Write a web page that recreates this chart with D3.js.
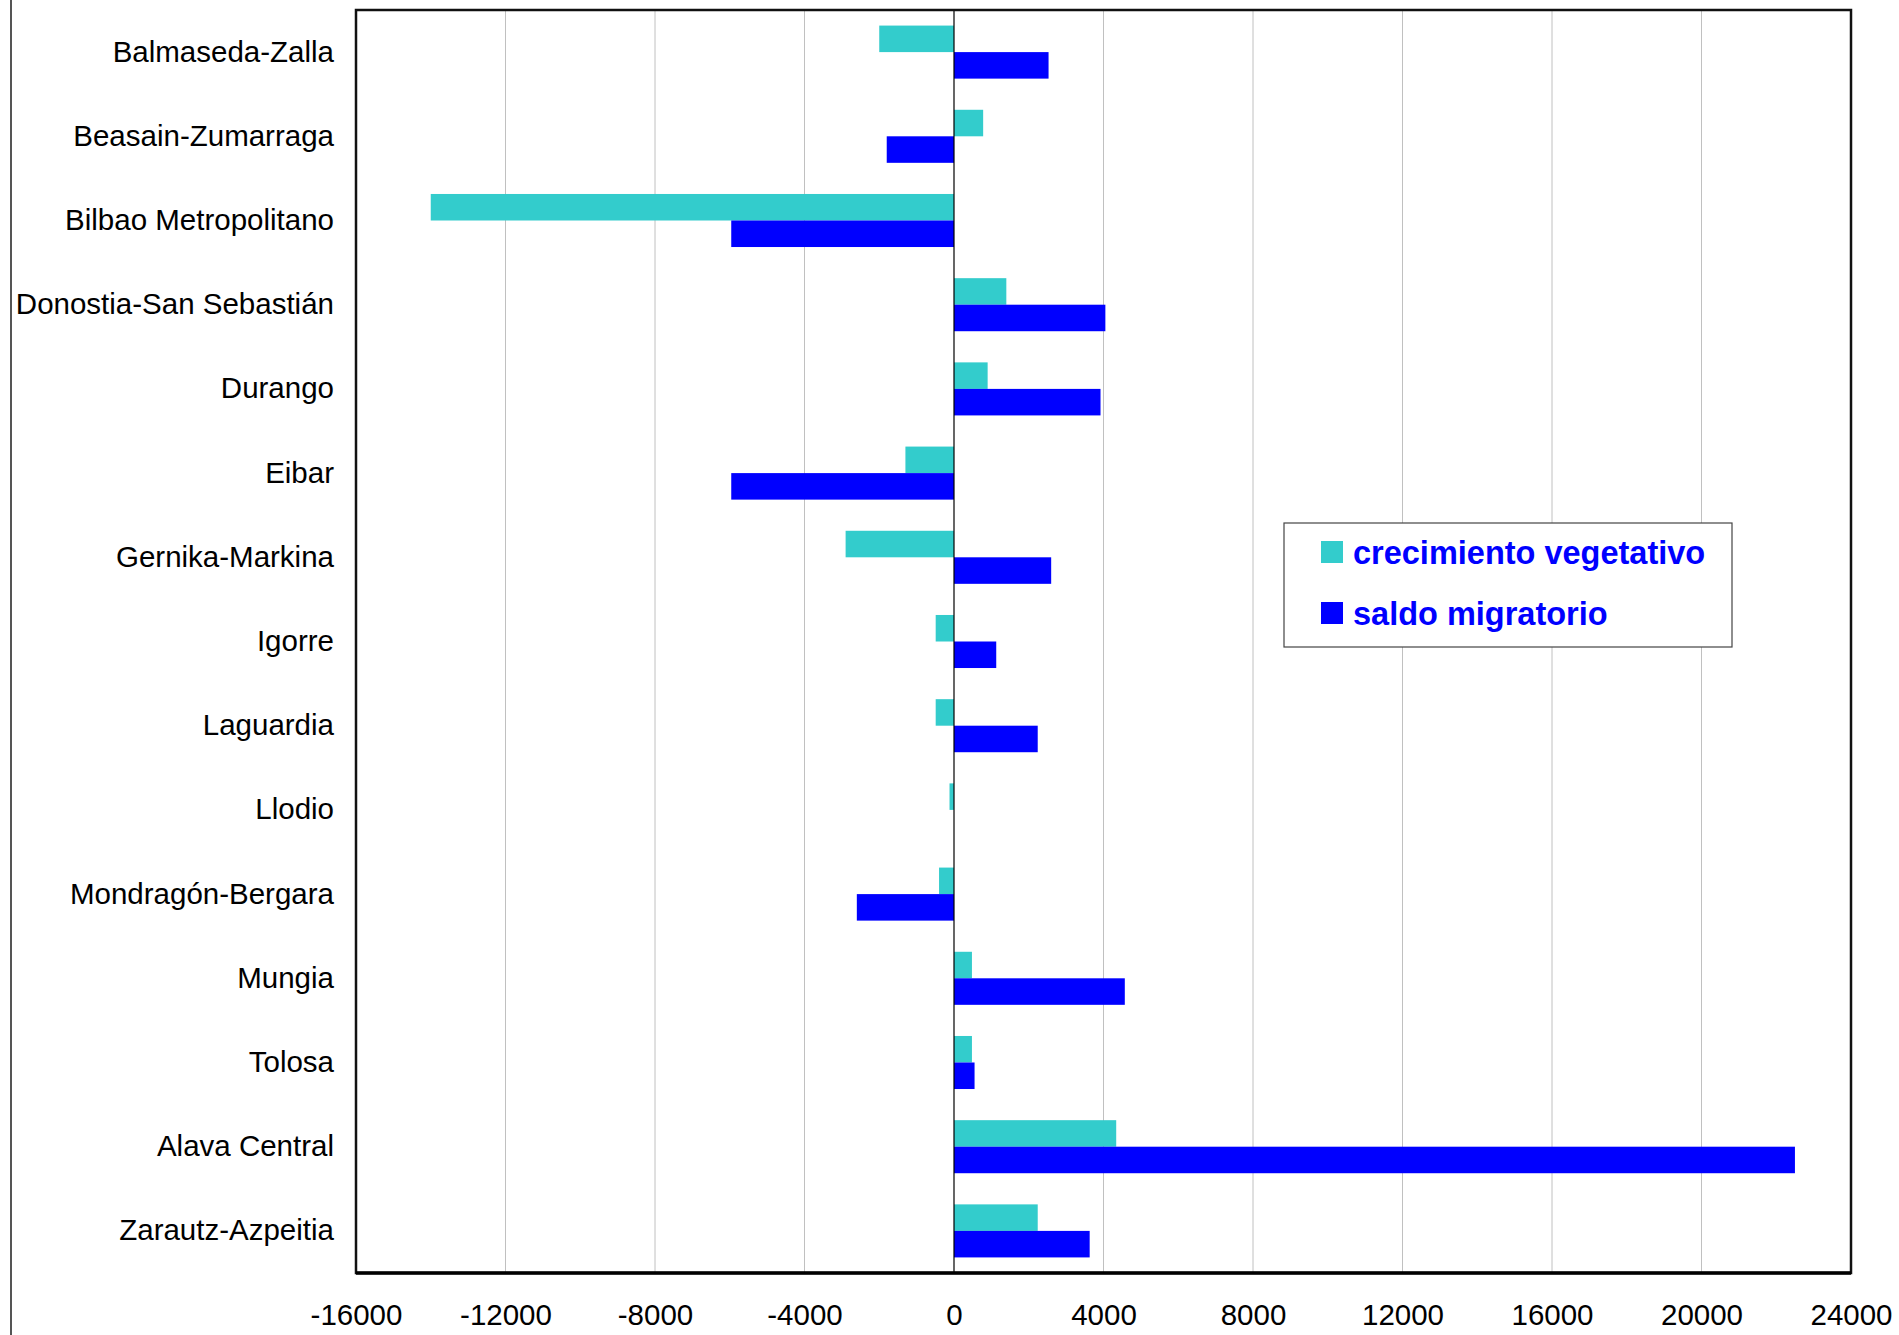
<!DOCTYPE html>
<html>
<head>
<meta charset="utf-8">
<script src="https://cdn.jsdelivr.net/npm/d3@7"></script>
<style>
  body { margin: 0; background: #fff; }
  svg { display: block; }
  text { font-family: "Liberation Sans", Arial, sans-serif; }
</style>
</head>
<body>
<div id="chart"></div>
<script>
// comarcas
let comarcas = ["Balmaseda-Zalla", "Beasain-Zumarraga", "Bilbao Metropolitano",
  "Donostia-San Sebastián", "Durango", "Eibar", "Gernika-Markina", "Igorre",
  "Laguardia", "Llodio", "Mondragón-Bergara", "Mungia", "Tolosa",
  "Alava Central", "Zarautz-Azpeitia"];

let crecimiento = [-2000, 780, -14000, 1400, 900, -1300, -2900, -490,
  -490, -120, -400, 480, 480, 4340, 2240];

let saldo = [2530, -1800, -5960, 4050, 3920, -5960, 2600, 1130,
  2240, 0, -2600, 4570, 550, 22500, 3630];

let series = ["crecimiento vegetativo", "saldo migratorio"];
let xTicks = [-16000, -12000, -8000, -4000, 0, 4000, 8000, 12000, 16000, 20000, 24000];

let width = 1899, height = 1335;
let margin = {top: 10, right: 48, bottom: 62, left: 356};

let svg = d3.select("#chart").append("svg")
  .attr("width", width)
  .attr("height", height);

// outer left line of the chart area
svg.append("line")
  .attr("x1", 11).attr("x2", 11)
  .attr("y1", 0).attr("y2", height)
  .attr("stroke", "#555")
  .attr("stroke-width", 2);

let x = d3.scaleLinear()
  .domain([-16000, 24000])
  .range([margin.left, width - margin.right]);

let y = d3.scaleBand()
  .domain(comarcas)
  .range([margin.top, height - margin.bottom])
  .paddingInner(0.37)
  .paddingOuter(0.185);

let ySub = d3.scaleBand()
  .domain(series)
  .range([0, y.bandwidth()]);

let color = d3.scaleOrdinal()
  .domain(series)
  .range(["#33CCCC", "#0000FF"]);

let g = svg.append("g");

// gridlines
g.selectAll("line.grid")
  .data(xTicks.filter(function(d) { return d > -16000 && d < 24000 && d != 0; }))
  .enter().append("line")
  .attr("class", "grid")
  .attr("x1", function(d) { return x(d); })
  .attr("x2", function(d) { return x(d); })
  .attr("y1", margin.top)
  .attr("y2", height - margin.bottom)
  .attr("stroke", "#C0C0C0")
  .attr("stroke-width", 1);

let rows = comarcas.map(function(c, i) {
  return {name: c, values: [crecimiento[i], saldo[i]]};
});

let grp = g.selectAll("g.row")
  .data(rows)
  .enter().append("g")
  .attr("class", "row")
  .attr("transform", function(d) { return "translate(0," + y(d.name) + ")"; });

grp.selectAll("rect")
  .data(function(d) {
    return d.values.map(function(v, k) { return {key: series[k], value: v}; });
  })
  .enter().append("rect")
  .attr("x", function(d) { return x(Math.min(0, d.value)); })
  .attr("y", function(d) { return ySub(d.key); })
  .attr("width", function(d) { return Math.abs(x(d.value) - x(0)); })
  .attr("height", ySub.bandwidth())
  .attr("fill", function(d) { return color(d.key); });

// zero line
g.append("line")
  .attr("x1", x(0)).attr("x2", x(0))
  .attr("y1", margin.top)
  .attr("y2", height - margin.bottom)
  .attr("stroke", "#000")
  .attr("stroke-width", 1.2);

// plot border
g.append("rect")
  .attr("x", margin.left)
  .attr("y", margin.top)
  .attr("width", width - margin.left - margin.right)
  .attr("height", height - margin.top - margin.bottom)
  .attr("fill", "none")
  .attr("stroke", "#111")
  .attr("stroke-width", 2.5);

g.append("line")
  .attr("x1", margin.left).attr("x2", width - margin.right)
  .attr("y1", height - margin.bottom).attr("y2", height - margin.bottom)
  .attr("stroke", "#000")
  .attr("stroke-width", 3.5);

// x axis
let xAxis = d3.axisBottom(x)
  .tickValues(xTicks)
  .tickFormat(function(d) { return String(d); })
  .tickSize(0)
  .tickPadding(31);

let xa = svg.append("g")
  .attr("transform", "translate(0," + (height - margin.bottom) + ")")
  .call(xAxis);
xa.select(".domain").remove();
xa.selectAll("text")
  .style("font-size", "29.5px")
  .attr("fill", "#000");

// category axis
let yAxis = d3.axisLeft(y)
  .tickSize(0)
  .tickPadding(22);

let ya = svg.append("g")
  .attr("transform", "translate(" + margin.left + ",0)")
  .call(yAxis);
ya.select(".domain").remove();
ya.selectAll("text")
  .style("font-size", "29.5px")
  .attr("fill", "#000");

// legend
let legend = svg.append("g")
  .attr("transform", "translate(1284,523)");

legend.append("rect")
  .attr("width", 448)
  .attr("height", 124)
  .attr("fill", "#fff")
  .attr("stroke", "#444")
  .attr("stroke-width", 1.2);

let item = legend.selectAll("g.item")
  .data(series)
  .enter().append("g")
  .attr("class", "item")
  .attr("transform", function(d, i) { return "translate(37," + (29 + i * 61) + ")"; });

item.append("rect")
  .attr("x", 0).attr("y", -11)
  .attr("width", 22).attr("height", 22)
  .attr("fill", function(d) { return color(d); });

item.append("text")
  .attr("x", 32)
  .attr("dy", "0.36em")
  .style("font-size", "32.5px")
  .style("font-weight", "bold")
  .attr("fill", "#0000FF")
  .text(function(d) { return d; });
</script>
</body>
</html>
